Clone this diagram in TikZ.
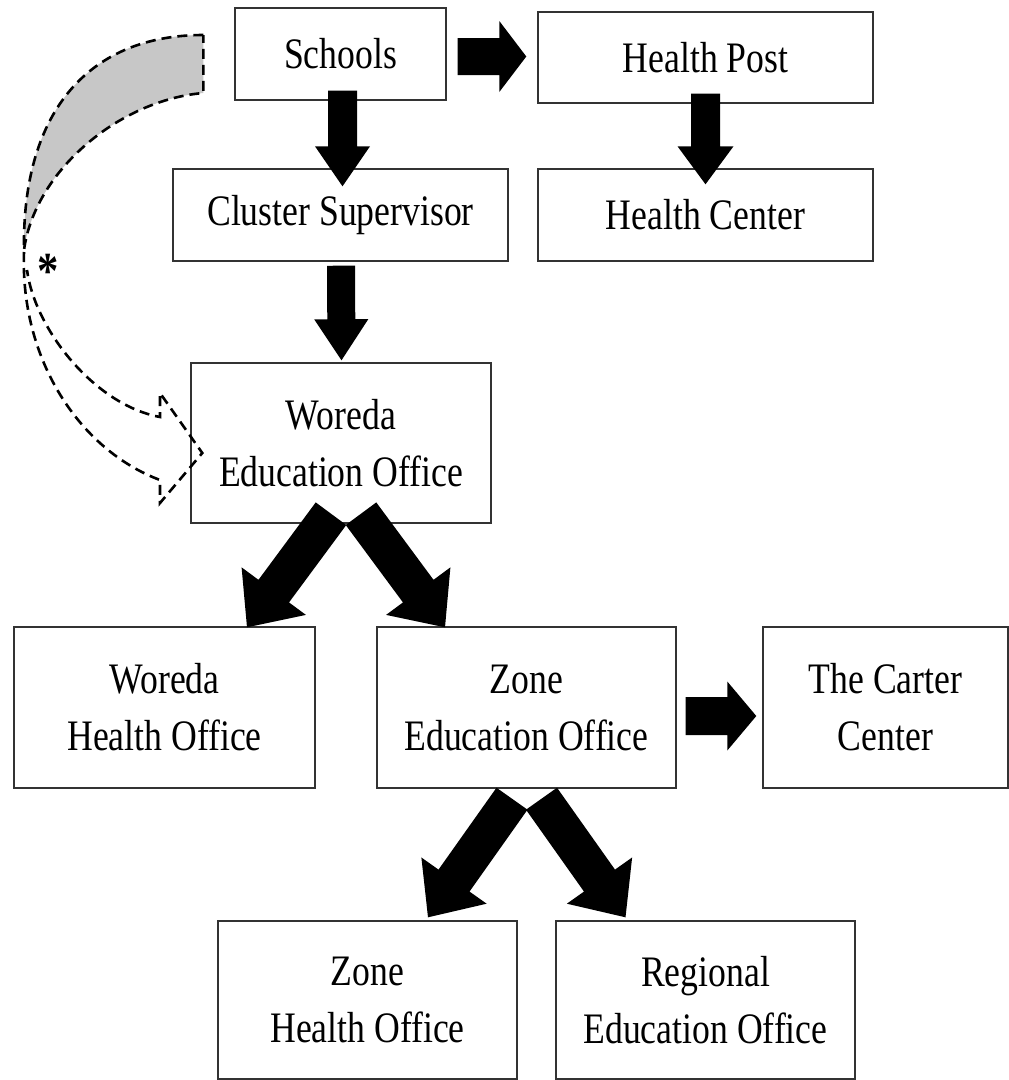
\documentclass[tikz,border=0pt]{standalone}
\usepackage{fontspec}
\setmainfont{Liberation Serif}[FakeStretch=0.82]
\usetikzlibrary{calc,positioning}

% block arrow: start, end, half shaft, half head, head length
\newcommand{\fatarrow}[5]{%
    \path #1 coordinate (fa-s) #2 coordinate (fa-t);
    \path ($(fa-t)!#5!(fa-s)$) coordinate (fa-b);
    \fill[black] ($(fa-s)!#3!90:(fa-t)$) -- ($(fa-b)!#3!-90:(fa-s)$)
        -- ($(fa-b)!#4!-90:(fa-s)$) -- (fa-t) -- ($(fa-b)!#4!90:(fa-s)$)
        -- ($(fa-b)!#3!90:(fa-s)$) -- ($(fa-s)!#3!-90:(fa-t)$) -- cycle;}

\begin{document}
\begin{tikzpicture}[x=1pt, y=-1pt,
        % office boxes
        office box/.style = {
            draw=black!80,
            line width=1.4pt,
            fill=white,
            rectangle,
            align=center,
            inner sep=0pt,
            font=\fontsize{43.5}{57}\selectfont
        },
        % outline of the curved arrow
        ribbon/.style = {
            draw=black,
            line width=2.6pt,
            dash pattern=on 10pt off 6pt,
            line join=miter
        }
    ]
    \useasboundingbox (0,0) rectangle (1009,1080);

    % top rows
    \node[office box, minimum width=211pt, minimum height=92pt] (schools) at (340.5,54) {Schools};
    \node[office box, minimum width=335pt, minimum height=91pt] (hpost) at (705.5,57.5) {Health Post};
    \node[office box, minimum width=335pt, minimum height=92pt] (cluster) at (340.5,215) {Cluster Supervisor};
    \node[office box, minimum width=335pt, minimum height=92pt] (hcenter) at (705.5,215) {Health Center};

    % woreda level
    \node[office box, minimum width=300pt, minimum height=160pt] (woredaEd) at (341,443) {Woreda\\Education Office};
    \node[office box, minimum width=301pt, minimum height=161pt] (woredaH) at (164.5,707.5) {Woreda\\Health Office};
    \node[office box, minimum width=299pt, minimum height=161pt] (zoneEd) at (526.5,707.5) {Zone\\Education Office};
    \node[office box, minimum width=245pt, minimum height=161pt] (carter) at (885.5,707.5) {The Carter\\Center};

    % zone / region level
    \node[office box, minimum width=299pt, minimum height=158pt] (zoneH) at (367.5,1000) {Zone\\Health Office};
    \node[office box, minimum width=299pt, minimum height=158pt] (regional) at (705.5,1000) {Regional\\Education Office};

    % block arrows
    \fatarrow{($(schools.east)+(11,2.5)$)}{($(hpost.west)+(-11,-1)$)}{18.5pt}{35.5pt}{27pt}
    \fatarrow{($(schools.south)+(2,-10)$)}{($(cluster.north)+(2,18)$)}{14.5pt}{27.5pt}{40pt}
    \fatarrow{($(hpost.south)+(0,-10)$)}{($(hcenter.north)+(0,16)$)}{14.5pt}{28pt}{38pt}
    \fatarrow{($(cluster.south)+(0.5,4)$)}{($(woredaEd.north)+(0.5,-2)$)}{14pt}{27pt}{41pt}
    \fatarrow{($(woredaEd.south)+(-10,-10)$)}{($(woredaH.north)+(82.5,1)$)}{19pt}{40pt}{45pt}
    \fatarrow{($(woredaEd.south)+(20,-10)$)}{($(zoneEd.north)+(-81.5,1)$)}{19pt}{40pt}{45pt}
    \fatarrow{($(zoneEd.east)+(9,8.5)$)}{($(carter.west)+(-6,8.5)$)}{19pt}{34.5pt}{29pt}
    \fatarrow{($(zoneEd.south)+(-14.5,10)$)}{($(zoneH.north)+(60.5,-3)$)}{19pt}{40pt}{45pt}
    \fatarrow{($(zoneEd.south)+(15,10)$)}{($(regional.north)+(-80,-3)$)}{19pt}{40pt}{45pt}

    % curved dashed arrow, back part shaded
    \coordinate (rb1) at ($(schools.west)+(-31,-19)$);
    \coordinate (rb2) at ($(schools.west)+(-31,39)$);
    \coordinate (rtip) at ($(woredaEd.west)+(12,10)$);
    \path[ribbon, fill=black!22] (rb1) .. controls (90,35) and (22,110) .. (24,250)
        .. controls (35,170) and (120,100) .. (rb2) -- cycle;
    \draw[ribbon] (24,252) .. controls (20,360) and (80,450) .. (160,480)
        -- (160,503) -- (rtip) -- (160,393) -- (160,417)
        .. controls (95,405) and (35,330) .. (27,270);
    \node[font=\fontsize{52}{52}\selectfont\bfseries, inner sep=0pt] (star) at (48,271) {*};
\end{tikzpicture}
\end{document}
